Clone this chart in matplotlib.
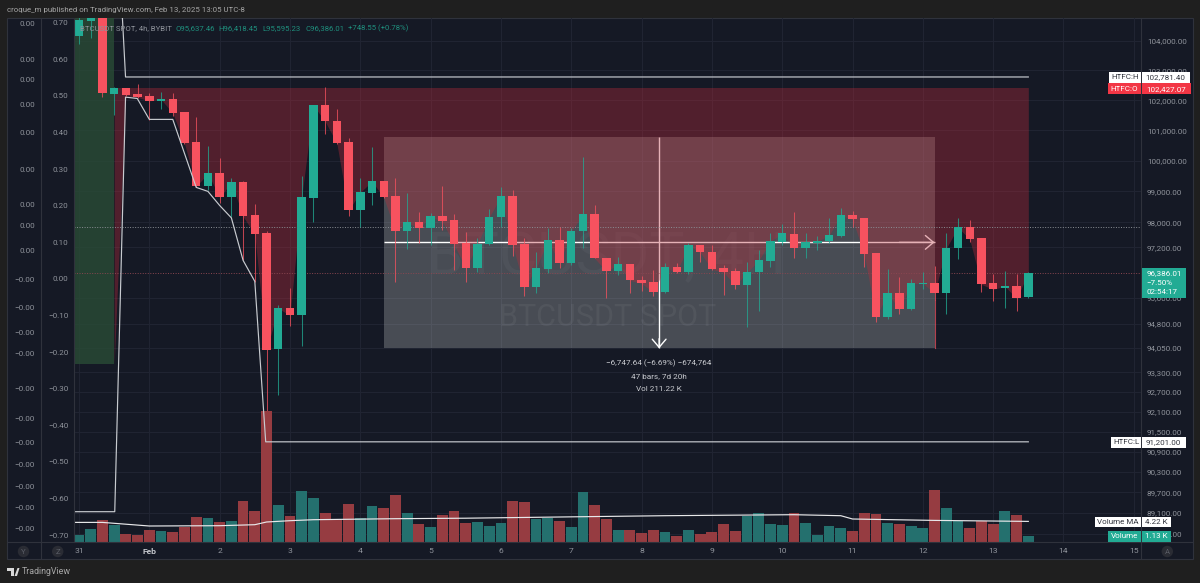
import matplotlib
matplotlib.use("Agg")
import matplotlib.pyplot as plt
from matplotlib.patches import Rectangle, Polygon
from matplotlib.ticker import NullLocator, FixedLocator, FixedFormatter

plt.rcParams['font.family'] = ['Roboto', 'DejaVu Sans']

# ---- data -----------------------------------------------------------------
opens = [104170,104680,105800,102225,102400,102197,102128,101960,102040,101595,100600,99165,99585,98805,99293,98225,97650,94005,95277,95060,
         98785,101828,101297,100600,98386,98935,99325,98838,97711,98000,97807,98190,98064,97328,96534,97297,98160,98838,97297,95935,
         96502,97424,96693,97711,98255,96851,96440,96661,96155,96092,95778,96566,96408,97265,97042,96534,96440,95998,96408,96756,
         97360,97615,97170,97328,97392,97551,98225,98128,97010,94997,95747,95246,96045,96060,95747,97170,97840,97488,96060,95904,95967,95637.46]
highs = [104950,105000,106000,102430,102420,102530,102230,102280,102230,101600,101430,100470,100075,99423,99325,98580,97725,95370,95900,99488,
         101830,102430,101695,100733,99423,100437,99330,99423,98935,98320,98290,99165,98255,97680,97488,98420,99130,99033,97488,97042,
         97807,97840,97807,100110,98545,96860,96883,96670,96281,96471,96693,96693,97328,97270,97265,96630,96534,96725,97105,97647,
         97935,98320,97647,97551,98128,98450,98352,98130,97015,96502,96250,96186,96408,96598,97647,98128,98064,97490,96345,96440,96345,96418.45]
lows = [103900,104100,102095,101495,102130,102080,101330,101695,101460,100565,99130,99033,98610,98160,96790,96090,91201,92602,94717,94100,
        98000,100865,100565,98190,97840,98545,98790,96090,97137,97328,97265,97743,96471,96090,96408,97265,97840,96915,95652,95747,
        96376,96534,96630,97170,96850,95590,96313,95747,95810,95652,95747,96376,96345,96725,96490,95684,95872,94686,95184,96566,
        97265,96851,96851,97105,97328,97520,97840,96566,94842,94935,95090,95215,95872,95527,95090,96820,97360,95778,95496,95277,95184,95595.23]
closes = [104718,104900,102240,102400,102160,102095,101980,102030,101570,100570,99165,99585,98805,99293,98190,97615,93976,95277,95060,98805,
          101828,101297,100570,98386,98968,99325,98805,97711,98000,97807,98190,98030,97297,96534,97297,98160,98838,97265,95935,96534,
          97424,96693,97711,98255,96851,96440,96661,96155,96060,95778,96566,96408,97265,97042,96502,96408,95998,96408,96788,97392,
          97647,97170,97360,97392,97583,98225,98096,96978,94997,95747,95246,96060,96060,95747,97170,97840,97456,96029,95872,95967,95590,96386.01]
volumes = [1.4,2.6,4.3,3.3,1.6,1.4,2.3,2.2,2.0,3.0,5.0,4.7,4.0,4.1,8.1,6.1,26.2,7.4,5.1,10.1,
           8.8,5.7,4.3,7.5,4.8,7.1,6.7,9.4,5.7,3.6,2.9,5.3,6.1,3.7,4.0,3.1,3.7,8.2,8.0,4.6,
           4.7,4.1,2.9,9.9,7.3,4.5,2.4,2.3,1.8,2.4,1.9,1.2,2.4,1.5,1.9,3.5,2.1,5.1,5.8,3.6,
           3.3,5.8,3.7,1.4,3.1,2.7,2.2,5.7,5.6,3.7,3.6,3.1,2.8,10.3,6.7,4.1,2.7,4.1,3.5,6.2,5.3,1.13]
ma_index = [-0.43,2,6,12,15,16,18,20,27,33,43,50,61,65,66,73,81]
ma_values = [3.86,3.86,3.14,3.2,3.4,3.94,4.2,4.4,4.6,4.7,5.0,5.2,5.4,5.2,4.54,4.26,4.06]

htf_high, htf_open, htf_low = 102781.40, 102427.07, 91201.00
prev_htf_open = 93560
high_path_x = [3.65, 3.97, 81]
high_path_y = [105200, htf_high, htf_high]
low_path_x = [-0.43, 3.05, 3.97, 4.97, 6, 8, 10, 11, 12, 13, 14, 15, 15.93, 81]
low_path_y = [89137, 89137, 102105, 102060, 101363, 101363, 99130, 99000, 98545, 98145, 96788, 96124, htf_low, htf_low]

range_start, range_end, range_mid = 26, 73, 49.5
range_top, range_bottom, range_center = 100784, 94036, 97360
dotted_level = 97842
last_price = 96386.01

price_ticks = [104000,103000,102000,101000,100000,99000,98000,97200,95600,94800,94050,93300,92700,92100,91500,90900,90300,89700,89100,88500]
price_tick_labels = [f"{v:,.2f}" for v in price_ticks]
day_ticks = [0,6,12,18,24,30,36,42,48,54,60,66,72,78,84,90]
day_labels = ['31','Feb','2','3','4','5','6','7','8','9','10','11','12','13','14','15']
fib_ticks = [0.7,0.6,0.5,0.4,0.3,0.2,0.1,0.0,-0.1,-0.2,-0.3,-0.4,-0.5,-0.6,-0.7]
small_ticks = [.00256,.0022,.00199,.00174,.00146,.001095,.000743,.00053,.000283,-.00001,-.00029,-.00054,-.00075,-.0011,-.0014,-.00164,-.001857,-.00208,-.002287,-.002497]

# ---- colours and geometry ---------------------------------------------------
BG = '#1f1f1f'; PANEL = '#151925'; GRID = '#212533'; SEP = '#2f323c'
UP = '#22ab94'; DOWN = '#f7525f'; TXT = '#8f939b'
VUP = '#24706e'; VDOWN = '#963c41'
W, H = 1200, 583
L, R, T, B = 74.0, 1141.3, 17.5, 541.7
def fx(p): return p / W
def fy(p): return 1 - p / H
rect = [fx(L), fy(B), (R - L) / W, (B - T) / H]
xlim = (-0.427, 90.64)
plim = (88265, 104804)

fig = plt.figure(figsize=(12, 5.83), dpi=100, facecolor=BG)
fig.patches.append(Rectangle((fx(7), fy(559)), (1193 - 7) / W, (559 - 17.5) / H, transform=fig.transFigure,
                             fc=PANEL, ec=SEP, lw=0.8, zorder=-1))

# ---- main price pane --------------------------------------------------------
ax = fig.add_axes(rect, zorder=1)
ax.set_facecolor('none')
ax.set_yscale('log')
ax.set_xlim(*xlim); ax.set_ylim(*plim)
for s in ax.spines.values(): s.set_visible(False)
ax.yaxis.tick_right()
ax.yaxis.set_major_locator(FixedLocator(price_ticks))
ax.yaxis.set_major_formatter(FixedFormatter(price_tick_labels))
ax.yaxis.set_minor_locator(NullLocator())
ax.xaxis.set_major_locator(FixedLocator(day_ticks))
ax.xaxis.set_major_formatter(FixedFormatter(day_labels))
ax.tick_params(axis='y', length=0, pad=4.1, labelsize=5.8, labelcolor=TXT)
ax.tick_params(axis='x', length=0, pad=4.6, labelsize=6.1, labelcolor=TXT)
for lab, txt in zip(ax.get_xticklabels(), day_labels):
    if txt == 'Feb':
        lab.set_fontweight('bold'); lab.set_color('#c4c6cc')
ax.grid(True, color=GRID, lw=0.7, zorder=0)
ax.set_axisbelow(True)

ax.fill_between([range_start, range_end], range_bottom, range_top, color=(200/255, 204/255, 202/255), alpha=0.29, lw=0, zorder=1)
ax.text(45.05, 96860, 'BTCUSDT, 4H', fontsize=42.5, color='white', alpha=0.035, ha='center', va='center', zorder=1.5)
ax.text(45.1, 94980, 'BTCUSDT SPOT', fontsize=22, color='white', alpha=0.05, ha='center', va='center', zorder=1.5)
ax.plot([range_start, range_end], [range_center, range_center], color='white', lw=1.0, zorder=2, solid_capstyle='butt')
ax.plot([range_mid, range_mid], [range_top, range_bottom], color='white', lw=1.0, zorder=2, solid_capstyle='butt')
for xy, xyt in [((range_end, range_center), (range_end - 3, range_center)),
                ((range_mid, range_bottom), (range_mid, range_bottom + 300))]:
    ax.annotate('', xy=xy, xytext=xyt, zorder=2,
                arrowprops=dict(arrowstyle='->,head_length=0.65,head_width=0.55', color='white', lw=1.0,
                                shrinkA=0, shrinkB=0, mutation_scale=9))
ax.plot([range_end, range_end], [range_bottom, 95527], color=DOWN, lw=0.8, alpha=0.7, zorder=2.5)

# higher-timeframe candle fills
ax.fill_between([-0.43, 3.02], prev_htf_open, 106000, color=(42/255, 76/255, 54/255), alpha=0.8, lw=0, zorder=3)
fill_x = list(range(3, 82))
fill_low = [prev_htf_open] + closes[4:]
ax.fill_between(fill_x, fill_low, [htf_open] * len(fill_x), color=(188/255, 44/255, 59/255), alpha=0.365, lw=0, zorder=3)

ax.axhline(dotted_level, color='#8a8e94', lw=0.7, ls=(0, (1, 1.6)), zorder=3.5)
ax.axhline(last_price, color='#8a4650', lw=0.7, ls=(0, (1, 1.6)), zorder=3.5)

xs = list(range(len(closes)))
colors = [UP if c >= o else DOWN for o, c in zip(opens, closes)]
ax.vlines(xs, lows, highs, colors=colors, lw=0.75, alpha=0.75, zorder=4)
ax.bar(xs, [abs(c - o) for o, c in zip(opens, closes)], bottom=[min(o, c) for o, c in zip(opens, closes)],
       width=0.72, color=colors, lw=0, zorder=5)

# ---- volume pane ------------------------------------------------------------
vax = fig.add_axes(rect, zorder=2)
vax.set_facecolor('none')
vax.set_xlim(*xlim); vax.set_ylim(0, 104.84)
vax.axis('off')
vcolors = [VUP if c >= o else VDOWN for o, c in zip(opens, closes)]
vax.bar(xs, volumes, width=0.92, color=vcolors, lw=0)
vax.plot(ma_index, ma_values, color='#e8e8ea', lw=0.85)

# ---- HTF range lines (on top) ----------------------------------------------
oax = fig.add_axes(rect, zorder=3)
oax.set_facecolor('none')
oax.set_yscale('log')
oax.set_xlim(*xlim); oax.set_ylim(*plim)
oax.axis('off')
oax.plot(high_path_x, high_path_y, color='#c8cbd0', lw=0.85)
oax.plot(low_path_x, low_path_y, color='#c8cbd0', lw=0.85)

# ---- left scales ------------------------------------------------------------
def left_scale(xpos, ticks, lim, fmt):
    a = fig.add_axes([fx(xpos), fy(B), 1 / W, (B - T) / H], zorder=1)
    a.set_facecolor('none')
    for s in a.spines.values(): s.set_visible(False)
    a.set_ylim(*lim); a.set_xticks([])
    a.set_yticks(ticks)
    a.set_yticklabels([fmt(t) for t in ticks])
    a.tick_params(axis='y', length=0, pad=0, labelsize=5.8, labelcolor=TXT)
def fmt2(t): return (f"{t:.2f}" if t >= 0 else f"\u2212{abs(t):.2f}")
left_scale(68.5, fib_ticks, ((279 - B) / 366, (279 - T) / 366), fmt2)
left_scale(34.7, small_ticks, ((279 - B) * 1e-5, (279 - T) * 1e-5), fmt2)

# ---- separators -------------------------------------------------------------
def sep(x0, y0, x1, y1):
    fig.add_artist(plt.Line2D([fx(x0), fx(x1)], [fy(y0), fy(y1)], color=SEP, lw=0.8, zorder=6))
sep(41, T, 41, 559); sep(L, T, L, B); sep(R, T, R, 559); sep(7, B, 1193, B)

# ---- labels -----------------------------------------------------------------
def box(x0, y0, x1, y1, fc):
    fig.patches.append(Rectangle((fx(x0), fy(y1)), (x1 - x0) / W, (y1 - y0) / H, transform=fig.transFigure,
                                 fc=fc, ec='none', zorder=10))
def label(x, y, s, color=TXT, size=5.8, ha='left', **kw):
    fig.text(fx(x), fy(y), s, color=color, fontsize=size, ha=ha, va='center', zorder=11, **kw)

def tag(x0, x1, x2, y0, y1, name, val, fc, col):
    box(x0, y0, x1 - 0.5, y1, fc); box(x1 + 0.5, y0, x2, y1, fc)
    label((x0 + x1) / 2, (y0 + y1) / 2, name, col, ha='center')
    label((x1 + x2) / 2, (y0 + y1) / 2, val, col, ha='center')
tag(1109, 1141.3, 1190, 72, 82.7, 'HTFC:H', '102,781.40', 'white', '#33363f')
tag(1108, 1141.3, 1190.5, 83.3, 94.3, 'HTFC:O', '102,427.07', '#f23645', 'white')
tag(1111.3, 1141.3, 1185.5, 437, 448, 'HTFC:L', '91,201.00', 'white', '#33363f')
tag(1094.7, 1141.3, 1171, 516.7, 527.3, 'Volume MA', '4.22 K', 'white', '#33363f')
tag(1108, 1141.3, 1171, 530.7, 541.7, 'Volume', '1.13 K', UP, 'white')
box(1141.8, 268, 1185.5, 297.7, UP)
label(1146.5, 273.5, '96,386.01', 'white')
label(1146.5, 283, '\u22127.50%', 'white')
label(1146.5, 292.5, '02:54:17', 'white')

label(7, 10, 'croque_m published on TradingView.com, Feb 13, 2025 13:05 UTC-8', '#a6a6a6', size=5.65)
label(80, 28, 'BTCUSDT SPOT, 4h, BYBIT', '#8f939b', size=5.6)
LG = '#1f8f7d'
label(176, 28, 'O95,637.46', LG, size=5.6)
label(218.5, 28, 'H96,418.45', LG, size=5.6)
label(262.5, 28, 'L95,595.23', LG, size=5.6)
label(305, 28, 'C96,386.01', LG, size=5.6)
label(348, 28, '+748.55 (+0.78%)', LG, size=5.6)
label(659, 363, '\u22126,747.64 (\u22126.69%) \u2212674,764', '#c9cbd0', size=5.85, ha='center')
label(659, 376, '47 bars, 7d 20h', '#c9cbd0', size=5.85, ha='center')
label(659, 389, 'Vol 211.22 K', '#c9cbd0', size=5.85, ha='center')
label(22, 572, 'TradingView', '#a8a8a8', size=6.4)

for x, s in [(23.5, 'Y'), (57.7, 'Z'), (1167.3, 'A')]:
    fig.text(fx(x), fy(551.5), s, color='#5a5d66', fontsize=5.6, ha='center', va='center', zorder=11,
             bbox=dict(boxstyle='circle,pad=0.35', fc='#2a2c34', ec='none'))

# TradingView mark
for pts in [[(7, 568), (14, 568), (14, 576), (10.5, 576), (10.5, 571), (7, 571)],
            [(14.5, 576), (17.5, 568), (19.5, 568), (17, 576)]]:
    fig.patches.append(Polygon([(fx(a), fy(b)) for a, b in pts], closed=True, transform=fig.transFigure,
                               fc='#d8d8d8', ec='none', zorder=10))

fig.savefig('out.png', dpi=100, facecolor=BG)
